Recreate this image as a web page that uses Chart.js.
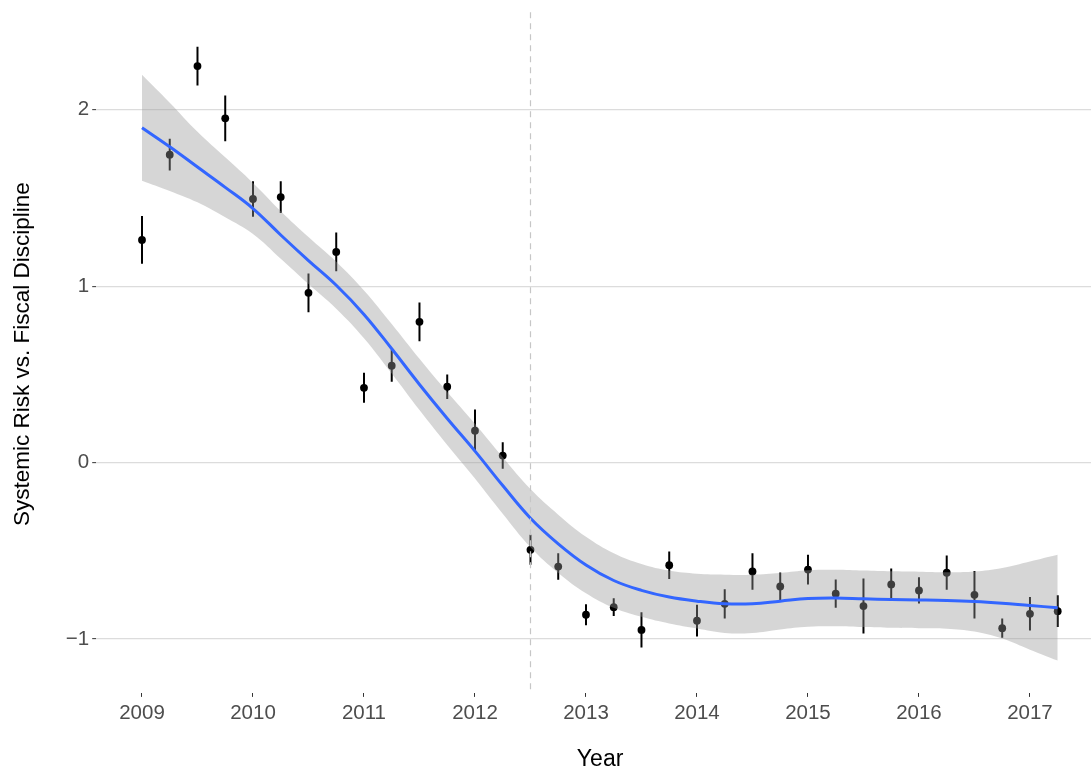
<!DOCTYPE html>
<html>
<head>
<meta charset="utf-8">
<script src="https://cdn.jsdelivr.net/npm/chart.js@4/dist/chart.umd.min.js"></script>
<style>
  html, body { margin: 0; padding: 0; background: #ffffff; overflow: hidden; }
  #wrap { width: 1091px; height: 769px; position: relative; overflow: hidden; }
  #chart { position: absolute; left: 0; top: 0; }
</style>
</head>
<body>
<div id="wrap"><canvas id="chart" width="1104" height="769"></canvas></div>
<script>
// Quarterly observations
const quarters = [
  2009.00, 2009.25, 2009.50, 2009.75, 2010.00, 2010.25, 2010.50, 2010.75,
  2011.00, 2011.25, 2011.50, 2011.75, 2012.00, 2012.25, 2012.50, 2012.75,
  2013.00, 2013.25, 2013.50, 2013.75, 2014.00, 2014.25, 2014.50, 2014.75,
  2015.00, 2015.25, 2015.50, 2015.75, 2016.00, 2016.25, 2016.50, 2016.75,
  2017.00, 2017.25
];
const estimates = [
  1.262, 1.745, 2.247, 1.951, 1.494, 1.505, 0.962, 1.194,
  0.424, 0.549, 0.798, 0.430, 0.181, 0.040, -0.494, -0.589,
  -0.862, -0.819, -0.948, -0.581, -0.896, -0.800, -0.617, -0.702,
  -0.606, -0.743, -0.813, -0.690, -0.724, -0.624, -0.749, -0.938,
  -0.857, -0.842
];
// Half-width of each estimate's interval
const errors = [
  0.135, 0.090, 0.110, 0.130, 0.100, 0.090, 0.110, 0.110,
  0.085, 0.090, 0.110, 0.070, 0.120, 0.075, 0.085, 0.075,
  0.060, 0.050, 0.100, 0.078, 0.090, 0.083, 0.104, 0.080,
  0.084, 0.080, 0.156, 0.090, 0.075, 0.097, 0.135, 0.055,
  0.095, 0.090
];

// Smoothed trend with its confidence band, at the same quarters
const trend = [
  1.898, 1.790, 1.675, 1.560, 1.440, 1.290, 1.145, 1.005,
  0.840, 0.645, 0.443, 0.250, 0.065, -0.130, -0.315, -0.460,
  -0.580, -0.668, -0.724, -0.762, -0.785, -0.800, -0.800, -0.785,
  -0.770, -0.767, -0.772, -0.776, -0.778, -0.781, -0.787, -0.797,
  -0.810, -0.822
];
const trendUpper = [
  2.198, 2.040, 1.875, 1.730, 1.585, 1.425, 1.278, 1.138,
  0.975, 0.785, 0.588, 0.400, 0.220, 0.030, -0.150, -0.295,
  -0.420, -0.513, -0.574, -0.612, -0.630, -0.635, -0.635, -0.625,
  -0.610, -0.607, -0.612, -0.616, -0.618, -0.621, -0.617, -0.597,
  -0.560, -0.522
];
const trendLower = [
  1.598, 1.540, 1.475, 1.390, 1.295, 1.155, 1.012, 0.872,
  0.705, 0.505, 0.298, 0.100, -0.090, -0.290, -0.480, -0.625,
  -0.740, -0.823, -0.874, -0.912, -0.940, -0.965, -0.965, -0.945,
  -0.930, -0.927, -0.932, -0.936, -0.938, -0.941, -0.957, -0.997,
  -1.060, -1.122
];

const yearTicks = [2009, 2010, 2011, 2012, 2013, 2014, 2015, 2016, 2017];
const valueTicks = [-1, 0, 1, 2];
const cutoffYear = 2012.5;

const xTitle = 'Year';
const yTitle = 'Systemic Risk vs. Fiscal Discipline';

// Build chart-ready series from the arrays above
const pointData = quarters.map((q, i) => ({ x: q, y: estimates[i] }));
const errorData = quarters.flatMap((q, i) => [
  { x: q, y: estimates[i] - errors[i] },
  { x: q, y: estimates[i] + errors[i] },
  { x: q, y: null }
]);
const trendData = quarters.map((q, i) => ({ x: q, y: trend[i] }));
const upperData = quarters.map((q, i) => ({ x: q, y: trendUpper[i] }));
const lowerData = quarters.map((q, i) => ({ x: q, y: trendLower[i] }));

// Dashed vertical reference line
const cutoffLine = {
  id: 'cutoffLine',
  afterDatasetsDraw(chart) {
    const { ctx, chartArea, scales } = chart;
    const x = Math.round(scales.x.getPixelForValue(cutoffYear)) + 0.5;
    ctx.save();
    ctx.strokeStyle = '#c6c6c6';
    ctx.lineWidth = 1.2;
    ctx.setLineDash([6, 5]);
    ctx.beginPath();
    ctx.moveTo(x, chartArea.top - 3);
    ctx.lineTo(x, chartArea.bottom);
    ctx.stroke();
    ctx.restore();
  }
};

Chart.defaults.font.family = '"Liberation Sans", Arial, Helvetica, sans-serif';

new Chart(document.getElementById('chart'), {
  type: 'line',
  data: {
    datasets: [
      {
        label: 'interval',
        data: errorData,
        order: 5,
        showLine: true,
        spanGaps: false,
        borderColor: '#000000',
        borderWidth: 2,
        pointRadius: 0,
        fill: false
      },
      {
        label: 'estimate',
        data: pointData,
        order: 4,
        showLine: false,
        pointRadius: 3.9,
        pointBackgroundColor: '#000000',
        pointBorderWidth: 0
      },
      {
        label: 'upper',
        data: upperData,
        order: 3,
        borderWidth: 0,
        borderColor: 'rgba(0,0,0,0)',
        pointRadius: 0,
        tension: 0.4,
        backgroundColor: 'rgba(153,153,153,0.4)',
        fill: '+1'
      },
      {
        label: 'lower',
        data: lowerData,
        order: 3,
        borderWidth: 0,
        borderColor: 'rgba(0,0,0,0)',
        pointRadius: 0,
        tension: 0.4,
        fill: false
      },
      {
        label: 'trend',
        data: trendData,
        order: 1,
        borderColor: '#3366FF',
        borderWidth: 3,
        pointRadius: 0,
        tension: 0.4,
        fill: false
      }
    ]
  },
  options: {
    responsive: false,
    animation: false,
    devicePixelRatio: 1,
    layout: { autoPadding: false, padding: { top: 14.5, right: 0, bottom: 0, left: 0 } },
    plugins: {
      legend: { display: false },
      tooltip: { enabled: false }
    },
    scales: {
      x: {
        type: 'linear',
        min: 2008.5875,
        max: 2017.667,
        afterBuildTicks: (axis) => { axis.ticks = yearTicks.map(v => ({ value: v })); },
        afterFit: (axis) => { axis.height = 76.1; },
        border: { display: false },
        grid: {
          drawOnChartArea: false,
          drawTicks: true,
          tickLength: 4,
          tickColor: '#333333',
          tickWidth: 1
        },
        ticks: {
          color: '#4d4d4d',
          font: { size: 20.5 },
          padding: 4,
          maxRotation: 0,
          callback: (v) => String(v)
        },
        title: {
          display: true,
          text: xTitle,
          color: '#000000',
          font: { size: 23, lineHeight: 0.8 },
          padding: { top: 0, bottom: 0 }
        }
      },
      y: {
        type: 'linear',
        min: -1.305,
        max: 2.535,
        afterBuildTicks: (axis) => { axis.ticks = valueTicks.map(v => ({ value: v })); },
        afterFit: (axis) => { axis.width = 96.2; },
        border: { display: false },
        grid: {
          color: '#dcdcdc',
          lineWidth: 1.3,
          drawTicks: true,
          tickLength: 4,
          tickColor: '#333333',
          tickWidth: 1
        },
        ticks: {
          color: '#4d4d4d',
          font: { size: 20.5 },
          padding: 3,
          callback: (v) => (v < 0 ? '\u2212' + Math.abs(v) : String(v))
        },
        title: {
          display: true,
          text: yTitle,
          color: '#000000',
          font: { size: 22.5, lineHeight: 1.2 },
          padding: { top: 9, bottom: 0 }
        }
      }
    }
  },
  plugins: [cutoffLine]
});
</script>
</body>
</html>
